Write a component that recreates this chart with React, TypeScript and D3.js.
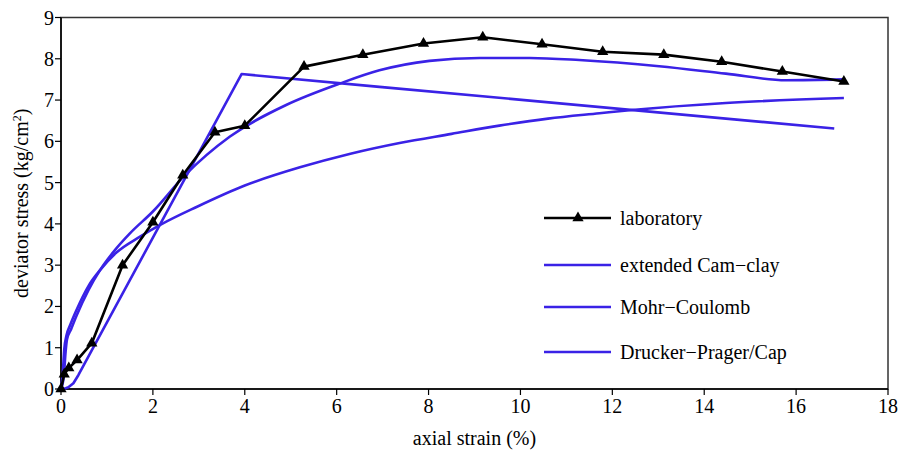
import React from "react";
import * as d3 from "d3";

const labX = [0, 0.07, 0.17, 0.35, 0.67, 1.34, 2.0, 2.65, 3.35, 4.0, 5.29, 6.57, 7.89, 9.18, 10.47, 11.79, 13.12, 14.38, 15.7, 17.04];
const labY = [0, 0.36, 0.51, 0.7, 1.11, 3.0, 4.04, 5.18, 6.22, 6.38, 7.81, 8.1, 8.37, 8.52, 8.35, 8.17, 8.1, 7.93, 7.69, 7.45];

const camX = [0, 0.06, 0.1, 0.13, 0.22, 0.34, 0.6, 0.85, 1.2, 1.5, 2.0, 2.7, 3.67, 4.9, 6.07, 6.93, 8.02, 9.11, 10.2, 11.28, 13.02, 14.47, 15.78, 17.04];
const camY = [0, 0.3, 0.9, 1.2, 1.45, 1.78, 2.4, 2.88, 3.4, 3.77, 4.3, 5.18, 6.11, 6.88, 7.4, 7.72, 7.95, 8.02, 8.02, 7.97, 7.82, 7.64, 7.48, 7.5];

const mcX = [0, 0.05, 0.1, 0.16, 0.27, 0.38, 3.93, 6.93, 16.83];
const mcY = [0, 0.005, 0.02, 0.04, 0.14, 0.34, 7.63, 7.32, 6.31];

const dpX = [0, 0.04, 0.07, 0.12, 0.2, 0.34, 0.6, 0.85, 1.2, 1.72, 2.2, 2.95, 4.0, 5.2, 6.3, 7.37, 8.5, 9.54, 10.6, 11.72, 12.43, 14.47, 17.04];
const dpY = [0, 0.4, 0.95, 1.3, 1.55, 1.92, 2.5, 2.88, 3.3, 3.69, 4.0, 4.41, 4.93, 5.37, 5.7, 5.96, 6.18, 6.38, 6.55, 6.68, 6.76, 6.93, 7.05];

const xTicks = [0, 2, 4, 6, 8, 10, 12, 14, 16, 18];
const yTicks = [0, 1, 2, 3, 4, 5, 6, 7, 8, 9];
const legendLabels = ["laboratory", "extended Cam\u2212clay", "Mohr\u2212Coulomb", "Drucker\u2212Prager/Cap"];

const W = 901, H = 454;
const left = 61, right = 888, top = 17.5, bottom = 389;
const BLUE = "#3a22e6";
const FONT = "Liberation Serif";

export default function App() {
  const x = d3.scaleLinear().domain([0, 18]).range([left, right]);
  const y = d3.scaleLinear().domain([0, 9]).range([bottom, top]);
  const zip = (xs: number[], ys: number[]) => xs.map((v, i) => [v, ys[i]] as [number, number]);
  const smooth = d3.line<[number, number]>().x(d => x(d[0])).y(d => y(d[1])).curve(d3.curveMonotoneX);
  const straight = d3.line<[number, number]>().x(d => x(d[0])).y(d => y(d[1]));
  const tri = d3.symbol().type(d3.symbolTriangle).size(55)();
  const legendY = [218, 265, 307, 352];
  const ts = { fontFamily: FONT, fontSize: 20 } as React.CSSProperties;

  return (
    <div style={{ position: "absolute", left: 0, top: 0 }}>
      <svg width={W} height={H} style={{ display: "block", background: "#fff" }}>
        <rect x={left} y={top} width={right - left} height={bottom - top} fill="none" stroke="#333" strokeWidth={1.5} />
        <line x1={left} x2={left} y1={top} y2={bottom} stroke="#000" strokeWidth={1.5} />
        <line x1={left} x2={right} y1={bottom} y2={bottom} stroke="#000" strokeWidth={1.5} />
        {yTicks.map(t => (
          <g key={"y" + t}>
            <line x1={left - 6} x2={left} y1={y(t)} y2={y(t)} stroke="#000" strokeWidth={1.2} />
            <text x={left - 7} y={y(t)} dy="0.35em" textAnchor="end" style={ts}>{t}</text>
          </g>
        ))}
        {xTicks.map(t => (
          <g key={"x" + t}>
            <line x1={x(t)} x2={x(t)} y1={bottom} y2={bottom + 6} stroke="#000" strokeWidth={1.2} />
            <text x={x(t)} y={bottom + 24} textAnchor="middle" style={ts}>{t}</text>
          </g>
        ))}
        <text x={(left + right) / 2} y={445} textAnchor="middle" style={ts}>axial strain (%)</text>
        <text transform={`translate(28,${(top + bottom) / 2}) rotate(-90)`} textAnchor="middle" style={ts}>
          deviator stress (kg/cm<tspan dy={-7} style={{ fontFamily: FONT, fontSize: 12 }}>2</tspan><tspan dy={7} style={ts}>)</tspan>
        </text>

        <path d={straight(zip(mcX, mcY)) || ""} fill="none" stroke={BLUE} strokeWidth={2.6} strokeLinejoin="round" />
        <path d={smooth(zip(dpX, dpY)) || ""} fill="none" stroke={BLUE} strokeWidth={2.6} />
        <path d={smooth(zip(camX, camY)) || ""} fill="none" stroke={BLUE} strokeWidth={2.6} />
        <path d={straight(zip(labX, labY)) || ""} fill="none" stroke="#000" strokeWidth={2.6} strokeLinejoin="round" />
        {labX.map((v, i) => (
          <path key={"m" + i} d={tri || ""} transform={`translate(${x(v)},${y(labY[i])})`} fill="#000" />
        ))}

        {legendLabels.map((lab, i) => (
          <g key={"l" + i}>
            <line x1={544} x2={611} y1={legendY[i]} y2={legendY[i]} stroke={i === 0 ? "#000" : BLUE} strokeWidth={2.6} />
            {i === 0 && <path d={tri || ""} transform={`translate(578,${legendY[i]})`} fill="#000" />}
            <text x={620} y={legendY[i]} dy="0.33em" style={ts}>{lab}</text>
          </g>
        ))}
      </svg>
    </div>
  );
}
